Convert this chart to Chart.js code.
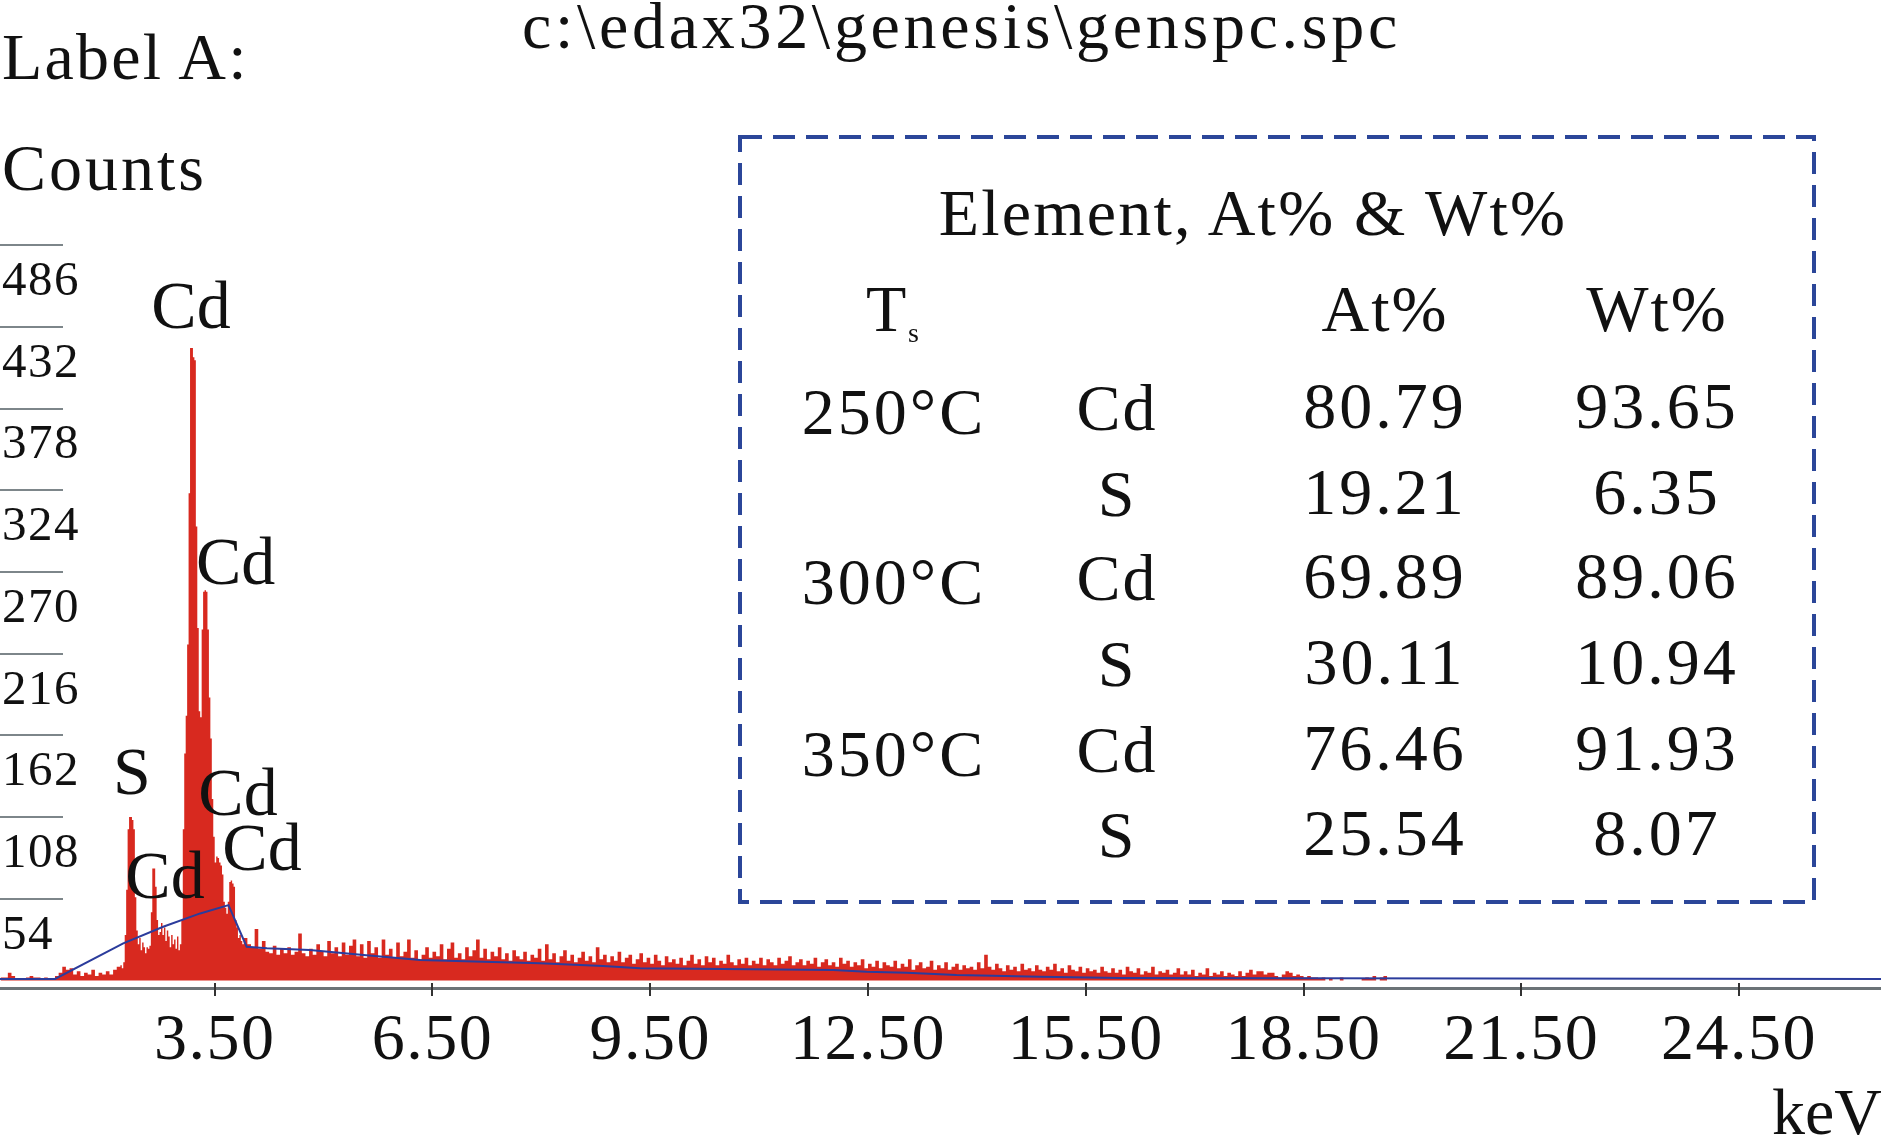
<!DOCTYPE html>
<html>
<head>
<meta charset="utf-8">
<script src="https://cdn.jsdelivr.net/npm/chart.js@4.4.0/dist/chart.umd.min.js"></script>
<style>
  html,body{margin:0;padding:0;background:#fff;}
  #wrap{position:relative;width:1881px;height:1143px;overflow:hidden;}
  #spec,#over{position:absolute;left:0;top:0;}
  #over text{font-family:"Liberation Serif","Times New Roman",serif;fill:#111;}
</style>
</head>
<body>
<div id="wrap">
  <canvas id="spec" width="1881" height="1143"></canvas>
  <svg id="over" width="1881" height="1143" xmlns="http://www.w3.org/2000/svg"></svg>
</div>
<script>
// ===== Spectrum data (counts per channel) =====
const lowStart = 0.55, lowWidth = 0.05;     // 0.55 - 2.20 keV
const lowCounts = [2,2,5,3,1,1,1,2,3,2,2,1,2,1,1,3,5,9,7,8,4,6,3,5,4,7,3,5,4,6,4,7,9];

const peakStart = 2.20, peakWidth = 0.02;   // 2.20 - 3.90 keV (S / Cd L lines)
const peakCounts = [
  10,8,12,30,60,100,108,108,106,100,
  55,33,24,28,20,25,22,18,22,21,
  23,45,74,74,62,40,30,32,38,30,
  35,26,33,29,22,30,24,27,21,29,
  20,24,40,100,150,175,222,322,418,418,
  412,410,300,233,178,174,232,257,258,257,
  232,187,160,120,95,78,82,81,78,76,
  70,52,48,44,52,65,66,64,62,40,
  35,28,30,26,24
];

const tailStart = 3.90, tailWidth = 0.05;   // 3.90 - 19.75 keV
const tailCounts = [
  28,24,22,34,21,26,19,18,23,17,21,18,22,17,19,31,18,16,21,17,   // 3.90
  24,19,16,26,18,22,16,25,17,23,27,16,24,15,26,18,22,15,27,17,   // 4.90
  21,15,25,16,19,27,15,20,14,17,22,15,19,16,24,14,21,25,15,18,   // 5.90
  14,22,16,20,27,15,21,14,19,16,22,14,18,13,20,16,14,19,13,17,   // 6.90
  15,21,13,24,14,18,12,16,20,13,17,12,15,19,13,16,12,22,14,17,   // 7.90
  12,16,13,19,12,15,17,11,14,18,12,15,11,17,13,10,16,12,14,11,   // 8.90
  15,10,13,17,11,14,10,16,12,15,10,13,11,17,12,10,14,11,15,10,   // 9.90
  13,11,15,10,14,12,10,15,11,13,16,10,12,14,10,13,11,15,9,12,    // 10.90
  14,10,12,9,15,11,13,9,12,10,14,8,11,9,13,8,12,10,9,13,         // 11.90
  8,11,9,14,7,10,12,8,9,13,7,10,8,12,7,9,11,7,10,8,              // 12.90
  9,7,12,8,17,9,7,11,8,6,10,7,9,6,11,7,8,6,10,7,                 // 13.90
  6,9,7,11,6,8,5,10,7,6,9,5,8,6,7,5,9,6,5,8,                     // 14.90
  5,7,4,9,6,5,8,4,6,5,9,4,6,5,7,4,5,8,4,6,                       // 15.90
  4,7,3,5,4,8,3,5,4,6,3,5,4,3,6,3,5,7,4,6,                       // 16.90
  6,4,5,5,3,2,4,6,5,3,4,3,2,3,2,2,1,2,0,1,                       // 17.90
  0,0,2,0,0,0,0,0,1,2,1,3,0,2,3,0,0,0                            // 18.90
];

// fitted background (blue trace)
const bgKeV    = [0.54, 1.30, 2.24, 2.79, 3.30, 3.69, 3.94, 4.22, 4.81, 5.55, 6.33, 7.20, 7.98, 8.85, 9.36, 12.02, 12.48, 13.03, 13.72, 14.87, 15.97, 26.46];
const bgCounts = [1, 1, 24.5, 35.5, 44.3, 49.8, 22.3, 21.2, 20.1, 16.8, 13.5, 12.4, 11.3, 9.5, 8, 6.9, 5.8, 5.1, 3.6, 2.5, 1.6, 1];

// axes
const X_MIN = 0.542, X_MAX = 26.455;
const Y_MIN = -5, Y_MAX = 582;
const xTicks = [3.5, 6.5, 9.5, 12.5, 15.5, 18.5, 21.5, 24.5];
const yTicks = [54, 108, 162, 216, 270, 324, 378, 432, 486];

// peak labels
const peakLabelText   = ['Cd', 'Cd', 'S', 'Cd', 'Cd', 'Cd'];
const peakLabelKeV    = [3.173, 3.789, 2.360, 3.821, 4.151, 2.815];
const peakLabelCounts = [443, 274, 135, 121, 85, 66];

// inset table
const tableTemps = ['250°C', '300°C', '350°C'];
const tableElems = ['Cd', 'S'];
const tableAt = [80.79, 19.21, 69.89, 30.11, 76.46, 25.54];
const tableWt = [93.65, 6.35, 89.06, 10.94, 91.93, 8.07];

// ===== build points =====
function edsSegment(start, width, counts){
  return counts.map((c, i) => ({ x: +(start + i*width).toFixed(3), y: c }));
}
const specPts = [].concat(
  edsSegment(lowStart, lowWidth, lowCounts),
  edsSegment(peakStart, peakWidth, peakCounts),
  edsSegment(tailStart, tailWidth, tailCounts)
);
const bgPts = bgKeV.map((k, i) => ({ x: k, y: bgCounts[i] }));

const SERIF = '"Liberation Serif","Times New Roman",serif';

const edsDecor = {
  id: 'edsDecor',
  beforeDraw(chart){ chart.ctx.letterSpacing = '1.5px'; },
  afterDraw(chart){
    const { ctx, scales: { x, y } } = chart;
    ctx.save();
    ctx.letterSpacing = '0px';
    // short count marks on the left
    ctx.strokeStyle = '#7d868a'; ctx.lineWidth = 2;
    y.ticks.forEach(t => {
      const py = Math.round(y.getPixelForValue(t.value));
      ctx.beginPath(); ctx.moveTo(0, py); ctx.lineTo(63, py); ctx.stroke();
    });
    // energy tick marks across the axis line
    ctx.strokeStyle = '#333'; ctx.lineWidth = 2;
    x.ticks.forEach(t => {
      const px = Math.round(x.getPixelForValue(t.value));
      ctx.beginPath(); ctx.moveTo(px, y.bottom - 5); ctx.lineTo(px, y.bottom + 8); ctx.stroke();
    });
    // peak labels
    ctx.fillStyle = '#111';
    ctx.font = '68px ' + SERIF;
    ctx.textAlign = 'center'; ctx.textBaseline = 'middle';
    peakLabelText.forEach((s, i) => {
      ctx.fillText(s, x.getPixelForValue(peakLabelKeV[i]), y.getPixelForValue(peakLabelCounts[i]));
    });
    ctx.restore();
  }
};

new Chart(document.getElementById('spec').getContext('2d'), {
  type: 'line',
  data: {
    datasets: [
      { label: 'Background', data: bgPts, borderColor: '#2b3c9c', borderWidth: 2, pointRadius: 0, fill: false, tension: 0 },
      { label: 'Counts', data: specPts, stepped: true, borderWidth: 0, borderColor: 'rgba(0,0,0,0)',
        backgroundColor: '#d8291f', fill: 'origin', pointRadius: 0 }
    ]
  },
  options: {
    responsive: false, animation: false, devicePixelRatio: 1,
    layout: { padding: { top: 100, left: 0, right: 0, bottom: 0 } },
    plugins: { legend: { display: false }, tooltip: { enabled: false } },
    scales: {
      x: {
        type: 'linear', min: X_MIN, max: X_MAX,
        afterFit: s => { s.height = 155; },
        afterBuildTicks: s => { s.ticks = xTicks.map(v => ({ value: v })); },
        grid: { display: false, drawTicks: false },
        border: { display: true, color: '#6b7377', width: 3 },
        ticks: { padding: 14, color: '#111', maxRotation: 0, autoSkip: false,
          font: { family: SERIF, size: 66 }, callback: v => Number(v).toFixed(2) }
      },
      y: {
        type: 'linear', min: Y_MIN, max: Y_MAX,
        afterFit: s => { s.width = 0; },
        afterBuildTicks: s => { s.ticks = yTicks.map(v => ({ value: v })); },
        grid: { display: false, drawTicks: false },
        border: { display: false },
        ticks: { mirror: true, padding: 2, labelOffset: 37, color: '#111', autoSkip: false,
          font: { family: SERIF, size: 49 } }
      }
    }
  },
  plugins: [edsDecor]
});

// ===== overlay texts + inset box =====
const svg = document.getElementById('over');
const NS = 'http://www.w3.org/2000/svg';
function svgText(txt, x, y, size, anchor, ls){
  const t = document.createElementNS(NS, 'text');
  t.setAttribute('x', x); t.setAttribute('y', y);
  t.setAttribute('font-size', size);
  t.setAttribute('text-anchor', anchor || 'start');
  if (ls) t.setAttribute('letter-spacing', ls);
  t.textContent = txt;
  svg.appendChild(t);
  return t;
}
const box = document.createElementNS(NS, 'rect');
box.setAttribute('x', 740); box.setAttribute('y', 137);
box.setAttribute('width', 1074); box.setAttribute('height', 765);
box.setAttribute('fill', 'none'); box.setAttribute('stroke', '#2b4699');
box.setAttribute('stroke-width', 4); box.setAttribute('stroke-dasharray', '22 11');
svg.appendChild(box);

svgText('c:\\edax32\\genesis\\genspc.spc', 522, 48, 66, 'start', 3.7);
svgText('Label A:', 2, 79, 66, 'start', 2.2);
svgText('Counts', 2, 190, 66, 'start', 3);
svgText('keV', 1772, 1134, 66, 'start', 0);

svgText('Element, At% & Wt%', 1253, 235, 66, 'middle', 2.2);
svgText('T', 866, 331, 66, 'start', 0);
svgText('s', 908, 342, 28, 'start', 0);
svgText('At%', 1385, 331, 66, 'middle', 2);
svgText('Wt%', 1657, 331, 66, 'middle', 2);

const rowBase = [430, 516, 600, 686, 772, 857];
tableAt.forEach((v, i) => {
  const b = rowBase[i];
  if (i % 2 === 0) svgText(tableTemps[i/2], 894, b + 4, 66, 'middle', 3);
  svgText(tableElems[i % 2], 1117, b, 66, 'middle', 2);
  svgText(v.toFixed(2), 1385, b - 2, 66, 'middle', 3);
  svgText(tableWt[i].toFixed(2), 1657, b - 2, 66, 'middle', 3);
});
</script>
</body>
</html>
